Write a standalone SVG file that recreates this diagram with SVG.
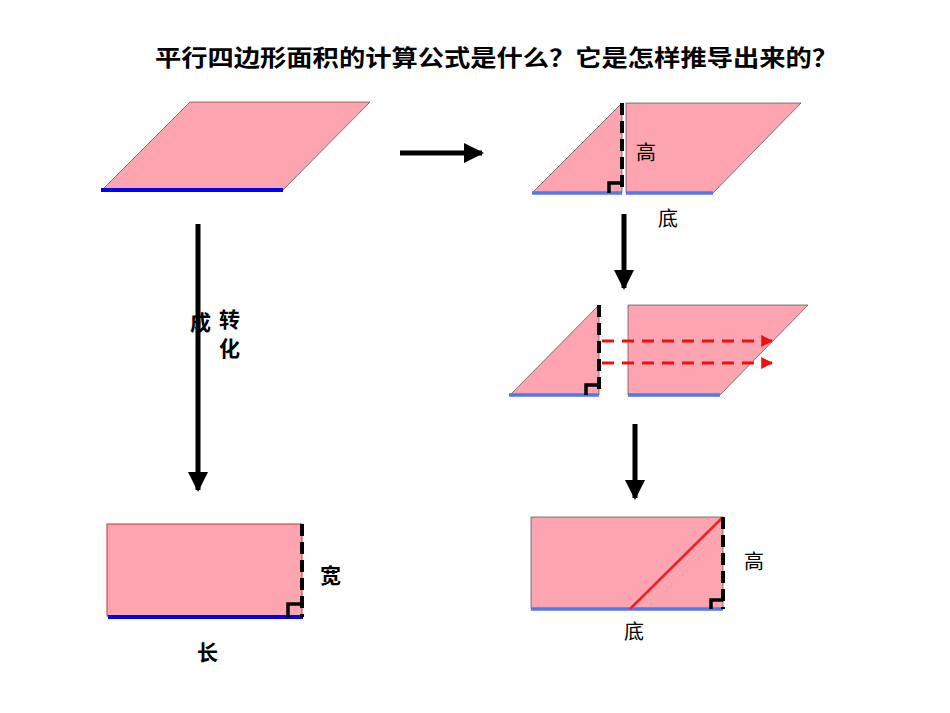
<svg xmlns="http://www.w3.org/2000/svg" width="950" height="713" viewBox="0 0 950 713">
<style>
.f{fill:#fca4b0;stroke:#333;stroke-width:0.6}
.bb{stroke:#0000ee;stroke-width:4}
.lb{stroke:#5577ee;stroke-width:3.5}
.d{stroke:#000;stroke-width:4;stroke-dasharray:12,6;fill:none}
.ra{stroke:#000;stroke-width:3.5;fill:none}
.rd{stroke:#ee1111;stroke-width:3;stroke-dasharray:12,8;fill:none}
.k{stroke:#000;stroke-width:5;fill:none}
text{font-family:"Noto Sans CJK SC","Noto Sans",sans-serif;fill:#000}
</style>
<defs>
<marker id="ah" viewBox="0 0 10 10" refX="9" refY="5" markerWidth="4" markerHeight="4" orient="auto" markerUnits="strokeWidth"><path d="M0,0L10,5L0,10z" fill="#000"/></marker>
<marker id="rh" viewBox="0 0 10 10" refX="9" refY="5" markerWidth="4" markerHeight="4" orient="auto" markerUnits="strokeWidth"><path d="M0,0L10,5L0,10z" fill="#ee1111"/></marker>
</defs>
<text x="155" y="66" font-size="23" font-weight="bold" textLength="683" lengthAdjust="spacingAndGlyphs">平行四边形面积的计算公式是什么？它是怎样推导出来的？</text>
<g id="para1">
<polygon class="f" points="102,190 190,102 370,102 283,190"/>
<line class="bb" x1="101" y1="190" x2="283" y2="190"/>
</g>
<g id="para2">
<polygon class="f" points="532,193 622,103 622,193"/>
<polygon class="f" points="626,103 801,103 713,193 626,193"/>
<line class="lb" x1="532" y1="193" x2="622" y2="193"/>
<line class="lb" x1="626" y1="193" x2="713" y2="193"/>
<line class="d" x1="622" y1="103" x2="622" y2="193"/>
<polyline class="ra" points="609,193 609,183 622,183"/>
<text x="636" y="160" font-size="20">高</text>
<text x="658" y="226" font-size="20">底</text>
</g>
<g id="para3">
<polygon class="f" points="510,395 599,305 599,395"/>
<polygon class="f" points="628,305 808,305 720,395 628,395"/>
<line class="lb" x1="509" y1="395" x2="599" y2="395"/>
<line class="lb" x1="628" y1="395" x2="720" y2="395"/>
<line class="d" x1="599" y1="305" x2="599" y2="395"/>
<polyline class="ra" points="586,395 586,385 599,385"/>
<line class="rd" x1="602" y1="341" x2="772" y2="341" marker-end="url(#rh)"/>
<line class="rd" x1="602" y1="363" x2="772" y2="363" marker-end="url(#rh)"/>
</g>
<g id="rect2">
<rect class="f" x="531" y="517" width="192" height="92"/>
<line class="lb" x1="531" y1="609" x2="723" y2="609"/>
<line stroke="#ee2222" stroke-width="2.5" x1="630" y1="609" x2="722" y2="518"/>
<line class="d" x1="723" y1="517" x2="723" y2="609"/>
<polyline class="ra" points="711,609 711,600 723,600"/>
<text x="744" y="569" font-size="20">高</text>
<text x="624" y="639" font-size="20">底</text>
</g>
<g id="rect1">
<rect x="107" y="524" width="195" height="92" fill="#fca4b0" stroke="#cc3333" stroke-width="1"/>
<line class="bb" x1="108" y1="617" x2="303" y2="617"/>
<line class="d" x1="302" y1="524" x2="302" y2="617"/>
<polyline class="ra" points="288,617 288,604 302,604"/>
<text x="320" y="583" font-size="21" font-weight="bold">宽</text>
<text x="197" y="660" font-size="21" font-weight="bold">长</text>
</g>
<g id="labels">
<text x="190" y="330" font-size="21" font-weight="bold">成</text>
<text x="219" y="327" font-size="21" font-weight="bold">转</text>
<text x="219" y="356" font-size="21" font-weight="bold">化</text>
</g>
<g id="connectors">
<line class="k" x1="198" y1="224" x2="198" y2="490" marker-end="url(#ah)"/>
<line class="k" x1="400" y1="153" x2="482" y2="153" marker-end="url(#ah)"/>
<line class="k" x1="624" y1="214" x2="624" y2="288" marker-end="url(#ah)"/>
<line class="k" x1="635" y1="424" x2="635" y2="498" marker-end="url(#ah)"/>
</g>
</svg>
